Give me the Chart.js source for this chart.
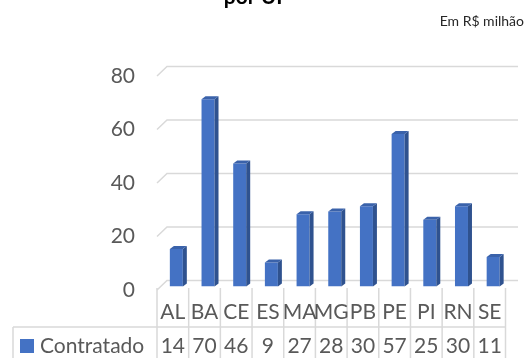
<!DOCTYPE html>
<html>
<head>
<meta charset="utf-8">
<script src="https://cdn.jsdelivr.net/npm/chart.js@4"></script>
<style>
  body { margin: 0; background: #fff; }
  #wrap { width: 525px; height: 358px; }
</style>
</head>
<body>
<div id="wrap"><canvas id="chart" width="525" height="358"></canvas></div>
<script>
// dados (R$ milhão)
const ufs = ['AL', 'BA', 'CE', 'ES', 'MA', 'MG', 'PB', 'PE', 'PI', 'RN', 'SE'];
const contratado = [14, 70, 46, 9, 27, 28, 30, 57, 25, 30, 11];
const yTicks = [0, 20, 40, 60, 80];

const FONT = 'Lato, "Open Sans", sans-serif';
const GREY = '#595959';
const LINE = '#D9D9D9';
const BLUE = '#4472C4';

// grades com perspectiva (parede de fundo)
const gridPlugin = {
    id: 'grid3d',
    beforeDatasetsDraw(chart) {
        const ctx = chart.ctx;
        const y = chart.scales.y;
        const left = 157, right = 518;
        ctx.save();
        ctx.strokeStyle = LINE;
        ctx.lineWidth = 1.5;
        yTicks.forEach(v => {
            const py = y.getPixelForValue(v);
            ctx.beginPath();
            ctx.moveTo(left, py + 3.5);
            ctx.lineTo(left + 10, py - 6);
            ctx.lineTo(right, py - 6);
            ctx.stroke();
        });
        ctx.restore();
    }
};

// faces laterais e topo das barras
const bar3dPlugin = {
    id: 'bar3d',
    afterDatasetsDraw(chart) {
        const ctx = chart.ctx;
        const dx = 4, dy = 3;
        ctx.save();
        chart.getDatasetMeta(0).data.forEach(bar => {
            const l = bar.x - bar.width / 2;
            const r = bar.x + bar.width / 2;
            // lateral
            ctx.fillStyle = '#2F528F';
            ctx.beginPath();
            ctx.moveTo(r, bar.y);
            ctx.lineTo(r + dx, bar.y - dy);
            ctx.lineTo(r + dx, bar.base - dy);
            ctx.lineTo(r, bar.base);
            ctx.closePath();
            ctx.fill();
            // topo
            ctx.fillStyle = '#3A62AA';
            ctx.beginPath();
            ctx.moveTo(l, bar.y);
            ctx.lineTo(l + dx, bar.y - dy);
            ctx.lineTo(r + dx, bar.y - dy);
            ctx.lineTo(r, bar.y);
            ctx.closePath();
            ctx.fill();
        });
        ctx.restore();
    }
};

// tabela de dados + títulos
const tablePlugin = {
    id: 'dataTable',
    afterDraw(chart) {
        const ctx = chart.ctx;
        const x = chart.scales.x;
        const y = chart.scales.y;
        const colW = x.getPixelForValue(1) - x.getPixelForValue(0);
        const shift = -3.5;
        const floor = y.getPixelForValue(0) + 3.5;
        const rowLine = floor + 37;
        const bottom = 358;
        const x0 = x.getPixelForValue(0) - colW / 2 + shift;
        const x1 = x.getPixelForValue(ufs.length - 1) + colW / 2 + shift;

        ctx.save();
        ctx.strokeStyle = LINE;
        ctx.lineWidth = 1.5;
        // linhas verticais
        for (let i = 0; i <= ufs.length; i++) {
            const px = x0 + i * colW;
            ctx.beginPath();
            ctx.moveTo(px, floor - 2);
            ctx.lineTo(px, bottom);
            ctx.stroke();
        }
        ctx.beginPath();
        ctx.moveTo(13, rowLine);
        ctx.lineTo(x1, rowLine);
        ctx.moveTo(13, rowLine);
        ctx.lineTo(13, bottom);
        ctx.stroke();

        ctx.fillStyle = GREY;
        ctx.font = '21px ' + FONT;
        ctx.textAlign = 'center';
        ctx.textBaseline = 'middle';
        ufs.forEach((uf, i) => {
            const cx = x.getPixelForValue(i) + shift;
            ctx.fillText(uf, cx, floor + 22);
            ctx.fillText(String(contratado[i]), cx, floor + 56);
        });

        // legenda
        ctx.fillStyle = BLUE;
        ctx.fillRect(20, floor + 49, 14, 14);
        ctx.fillStyle = GREY;
        ctx.textAlign = 'left';
        ctx.fillText('Contratado', 40, floor + 56);

        // título (cortado no topo) e unidade
        ctx.fillStyle = '#000';
        ctx.font = 'bold 21px ' + FONT;
        ctx.textAlign = 'center';
        ctx.textBaseline = 'alphabetic';
        ctx.fillText('por UF', 256, 4);
        ctx.font = '14px ' + FONT;
        ctx.textAlign = 'right';
        ctx.fillStyle = '#262626';
        ctx.fillText('Em R$ milhão', 524, 26);
        ctx.restore();
    }
};

const ctx = document.getElementById('chart').getContext('2d');
new Chart(ctx, {
    type: 'bar',
    data: {
        labels: ufs,
        datasets: [{
            label: 'Contratado',
            data: contratado,
            backgroundColor: BLUE,
            borderWidth: 0,
            categoryPercentage: 1,
            barPercentage: 0.41
        }]
    },
    options: {
        responsive: false,
        animation: false,
        devicePixelRatio: 1,
        layout: { padding: { left: 0, right: 16, top: 72.5, bottom: 71.5 } },
        scales: {
            x: { display: false },
            y: {
                min: 0,
                max: 80,
                afterFit(scale) { scale.width = 160.5; },
                grid: { display: false, drawTicks: false },
                border: { display: false },
                ticks: {
                    stepSize: 20,
                    padding: 25.5,
                    labelOffset: 3.5,
                    color: GREY,
                    font: { family: FONT, size: 21 }
                }
            }
        },
        plugins: {
            legend: { display: false },
            title: { display: false },
            tooltip: { enabled: false }
        }
    },
    plugins: [gridPlugin, bar3dPlugin, tablePlugin]
});
</script>
</body>
</html>
